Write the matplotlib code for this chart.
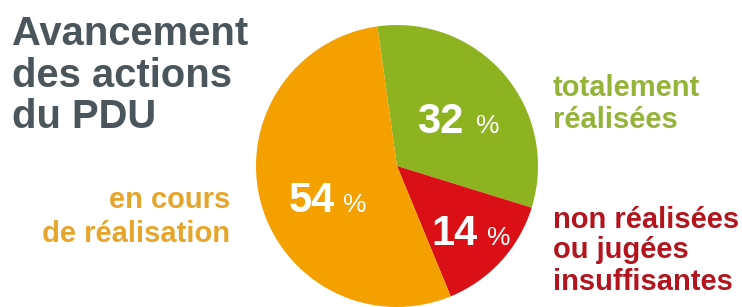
import matplotlib.pyplot as plt

# data
categories = ["totalement\nréalisées", "non réalisées\nou jugées\ninsuffisantes", "en cours\nde réalisation"]
values = [32, 14, 54]
colors = ["#8db320", "#da1016", "#f4a100"]
label_colors = ["#93b438", "#b3141d", "#e6a52c"]
title = "Avancement\ndes actions\ndu PDU"

W, H = 742, 307
FONT = "Liberation Sans"

fig = plt.figure(figsize=(W / 100, H / 100), dpi=100)
ax = fig.add_axes([0, 0, 1, 1])

# pie in pixel coordinates (y measured from the bottom)
cx, cy, r = 397, H - 166, 141
ax.pie(values, colors=colors, startangle=98, counterclock=False,
       center=(cx, cy), radius=r, wedgeprops=dict(linewidth=0))

ax.set_xlim(0, W)
ax.set_ylim(0, H)
ax.set_aspect("equal")
ax.axis("off")


def lines(text, x, baselines, size, color, ha="left"):
    for line, y in zip(text.split("\n"), baselines):
        ax.text(x, H - y, line, fontsize=size, fontweight="bold", color=color,
                family=FONT, va="baseline", ha=ha)


# title
lines(title, 12, [45, 87, 128], 28.8, "#4b565c")

# percentage labels (number + small %)
pct_pos = [(417, 133, 476), (431, 245, 487), (289, 212, 343)]
for v, (x, y, xp) in zip(values, pct_pos):
    ax.text(x, H - y, str(v), fontsize=30, fontweight="bold", color="white",
            family=FONT, va="baseline", ha="left")
    ax.text(xp, H - y, "%", fontsize=19, color="white",
            family=FONT, va="baseline", ha="left")

# category labels
lines(categories[0], 553, [96, 128], 21, label_colors[0])
lines(categories[1], 553, [228, 258, 290], 21, label_colors[1])
lines(categories[2], 230, [208, 242], 21, label_colors[2], ha="right")

fig.savefig("out.png", dpi=100)
